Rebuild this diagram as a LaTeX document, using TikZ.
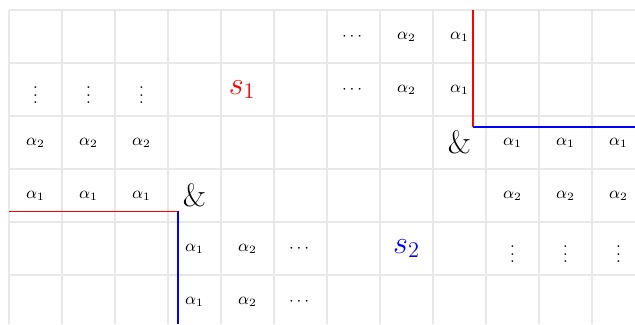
\documentclass[tikz,border=0pt]{standalone}
\usepackage{xcolor}
\usepackage{amsmath}
\usepackage{amssymb}
\usepackage{tikz}
\usetikzlibrary{positioning}
\definecolor{gridgray}{RGB}{232,232,232}
\definecolor{blockred}{RGB}{255,0,0}
\definecolor{blockblue}{RGB}{0,0,255}

\begin{document}
\begin{tikzpicture}[
    entry/.style={font=\small},
    amp/.style={font=\LARGE},
    setname/.style={font=\LARGE},
    border/.style={line width=1pt}
]
\useasboundingbox (-0.17,0.075) rectangle (11.81,6.19);
\draw[gridgray, line width=0.8pt] (0,0.075) grid (11.81,6);

% borders
\coordinate (topcorner) at (8.76,3.8);
\coordinate (lowcorner) at (3.19,2.2);
\draw[border, draw=blockred] (8.76,6) -- (topcorner);
\draw[border, draw=blockblue] (topcorner) -- (11.81,3.8);
\draw[border, draw=blockred] (0,2.2) -- (lowcorner);
\draw[border, draw=blockblue] (lowcorner) -- (3.19,0.075);

% upper right block
\node[entry] (r0c6) at (6.5,5.5) {$\cdots$};
\node[entry] (r0c7) at (7.5,5.5) {$\alpha_2$};
\node[entry] (r0c8) at (8.5,5.5) {$\alpha_1$};
\node[entry] (r1c6) at (6.5,4.5) {$\cdots$};
\node[entry] (r1c7) at (7.5,4.5) {$\alpha_2$};
\node[entry] (r1c8) at (8.5,4.5) {$\alpha_1$};
\node[amp] (amp1) at (8.5,3.5) {$\&$};
\node[entry] (r2c9) at (9.5,3.5) {$\alpha_1$};
\node[entry] (r2c10) at (10.5,3.5) {$\alpha_1$};
\node[entry] (r2c11) at (11.5,3.5) {$\alpha_1$};
\node[entry] (r3c9) at (9.5,2.5) {$\alpha_2$};
\node[entry] (r3c10) at (10.5,2.5) {$\alpha_2$};
\node[entry] (r3c11) at (11.5,2.5) {$\alpha_2$};
\node[entry] (r4c9) at (9.5,1.5) {$\vdots$};
\node[entry] (r4c10) at (10.5,1.5) {$\vdots$};
\node[entry] (r4c11) at (11.5,1.5) {$\vdots$};

% lower left block
\node[entry] (r1c0) at (0.5,4.5) {$\vdots$};
\node[entry] (r1c1) at (1.5,4.5) {$\vdots$};
\node[entry] (r1c2) at (2.5,4.5) {$\vdots$};
\node[entry] (r2c0) at (0.5,3.5) {$\alpha_2$};
\node[entry] (r2c1) at (1.5,3.5) {$\alpha_2$};
\node[entry] (r2c2) at (2.5,3.5) {$\alpha_2$};
\node[entry] (r3c0) at (0.5,2.5) {$\alpha_1$};
\node[entry] (r3c1) at (1.5,2.5) {$\alpha_1$};
\node[entry] (r3c2) at (2.5,2.5) {$\alpha_1$};
\node[amp] (amp2) at (3.5,2.5) {$\&$};
\node[entry] (r4c3) at (3.5,1.5) {$\alpha_1$};
\node[entry] (r4c4) at (4.5,1.5) {$\alpha_2$};
\node[entry] (r4c5) at (5.5,1.5) {$\cdots$};
\node[entry] (r5c3) at (3.5,0.5) {$\alpha_1$};
\node[entry] (r5c4) at (4.5,0.5) {$\alpha_2$};
\node[entry] (r5c5) at (5.5,0.5) {$\cdots$};

% the two sets
\node[setname, text=blockred] (s1) at (4.4,4.5) {$s_1$};
\node[setname, text=blockblue] (s2) at (7.5,1.5) {$s_2$};
\end{tikzpicture}
\end{document}
